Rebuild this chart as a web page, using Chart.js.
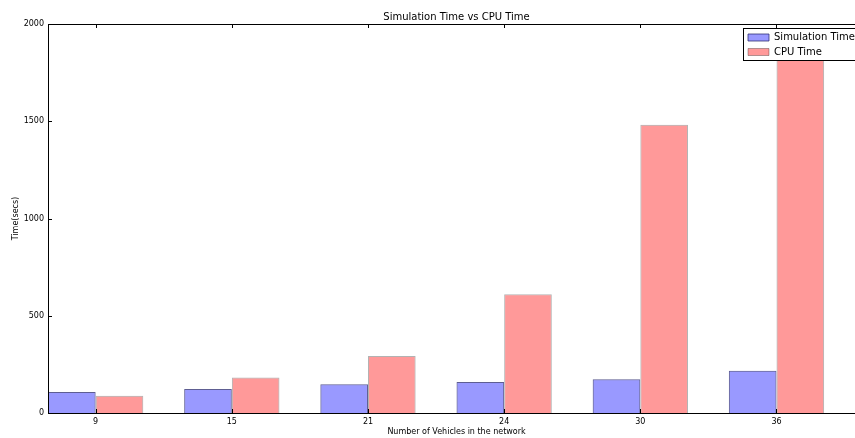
<!DOCTYPE html>
<html>
<head>
<meta charset="utf-8">
<script src="https://cdn.jsdelivr.net/npm/chart.js@4/dist/chart.umd.min.js"></script>
<style>
  html, body { margin: 0; padding: 0; background: #fff; overflow: hidden; }
  #wrap { width: 890px; height: 438px; }
</style>
</head>
<body>
<div id="wrap"><canvas id="c" width="890" height="438"></canvas></div>
<script>
const categories = ['9', '15', '21', '24', '30', '36'];
const simulationTime = [108, 123, 148, 160, 174, 217];
const cpuTime = [89, 182, 293, 611, 1482, 1900];
const yTicks = [0, 500, 1000, 1500, 2000];

const FONT = 'DejaVu Sans';
const toPoints = (arr) => arr.map((v, i) => ({ x: i, y: v }));

const framePlugin = {
  id: 'frame',
  beforeDraw(chart) {
    const lg = chart.legend;
    if (lg) {
      lg.left = 743.5; lg.top = 28; lg.right = 890; lg.bottom = 90;
      lg.width = lg.right - lg.left; lg.height = lg.bottom - lg.top;
    }
  },
  afterDatasetsDraw(chart) {
    const ctx = chart.ctx;
    const a = chart.chartArea;
    const xs = chart.scales.x, ys = chart.scales.y;
    ctx.save();
    ctx.strokeStyle = '#000';
    ctx.lineWidth = 1;
    ctx.strokeRect(Math.round(a.left) + 0.5, Math.round(a.top) + 0.5,
      Math.round(a.right - a.left) - 1, Math.round(a.bottom - a.top));
    ctx.beginPath();
    ys.ticks.forEach(t => {
      const y = Math.round(ys.getPixelForValue(t.value)) + 0.5;
      ctx.moveTo(a.left, y); ctx.lineTo(a.left + 4, y);
      ctx.moveTo(a.right, y); ctx.lineTo(a.right - 4, y);
    });
    xs.ticks.forEach(t => {
      const x = Math.round(xs.getPixelForValue(t.value)) + 0.5;
      ctx.moveTo(x, a.bottom); ctx.lineTo(x, a.bottom - 4);
      ctx.moveTo(x, a.top); ctx.lineTo(x, a.top + 4);
    });
    ctx.stroke();
    ctx.fillStyle = '#fff';
    ctx.fillRect(743.5, 28.5, 140, 32);
    ctx.strokeRect(743.5, 28.5, 140, 32);
    ctx.restore();
    if (chart.legend) chart.legend.draw();
  }
};

new Chart(document.getElementById('c'), {
  type: 'bar',
  data: {
    datasets: [
      {
        label: 'Simulation Time',
        data: toPoints(simulationTime),
        backgroundColor: 'rgba(0,0,255,0.4)',
        borderColor: 'rgba(40,40,110,0.75)',
        borderWidth: 1,
        borderSkipped: 'start',
        categoryPercentage: 0.7,
        barPercentage: 1.0
      },
      {
        label: 'CPU Time',
        data: toPoints(cpuTime),
        backgroundColor: 'rgba(255,0,0,0.4)',
        borderColor: 'rgba(0,0,0,0.3)',
        borderWidth: 1,
        borderSkipped: 'start',
        categoryPercentage: 0.7,
        barPercentage: 1.0
      }
    ]
  },
  options: {
    responsive: false,
    animation: false,
    layout: { padding: { left: 0, right: 25, top: 0, bottom: 0 } },
    plugins: {
      title: {
        display: true,
        text: 'Simulation Time vs CPU Time',
        fullSize: false,
        color: '#000',
        font: { family: FONT, size: 10, weight: 'normal', lineHeight: 1.2 },
        padding: { top: 11, bottom: 1 }
      },
      legend: {
        position: 'chartArea',
        align: 'start',
        maxHeight: 60,
        labels: {
          color: '#000',
          font: { family: FONT, size: 10 },
          boxWidth: 21,
          boxHeight: 7,
          padding: 4.5
        }
      },
      tooltip: { enabled: false }
    },
    scales: {
      x: {
        type: 'linear',
        position: 'bottom',
        offset: false,
        min: -0.35,
        max: 5.65,
        afterBuildTicks: (axis) => { axis.ticks = categories.map((c, i) => ({ value: i })); },
        afterFit: (axis) => { axis.height = 25; },
        grid: { display: false, drawTicks: false, offset: false },
        border: { display: false },
        ticks: {
          autoSkip: false,
          maxRotation: 0,
          padding: 4,
          color: '#000',
          font: { family: FONT, size: 8 },
          callback: (v) => categories[v]
        },
        title: {
          display: true,
          text: 'Number of Vehicles in the network',
          color: '#000',
          font: { family: FONT, size: 8 },
          padding: { top: 0, bottom: 1.5 }
        }
      },
      y: {
        min: 0,
        max: 2000,
        afterBuildTicks: (axis) => { axis.ticks = yTicks.map(v => ({ value: v })); },
        afterFit: (axis) => { axis.width = 48; },
        grid: { display: false, drawTicks: false },
        border: { display: false },
        ticks: {
          padding: 4,
          color: '#000',
          font: { family: FONT, size: 8 },
          callback: (v) => String(v)
        },
        title: {
          display: true,
          text: 'Time(secs)',
          color: '#000',
          font: { family: FONT, size: 8 },
          padding: { top: 11, bottom: 0 }
        }
      }
    }
  },
  plugins: [framePlugin]
});
</script>
</body>
</html>
